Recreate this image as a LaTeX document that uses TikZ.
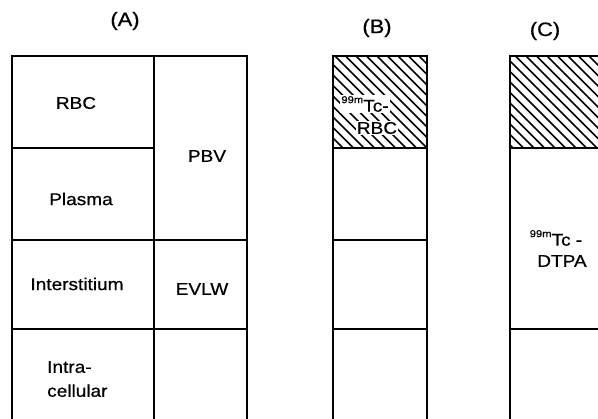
\documentclass[tikz,border=0pt]{standalone}
\usepackage{fontspec}
\setmainfont{Liberation Sans}[FakeStretch=1.12,FakeBold=0.6]
\begin{document}
\begin{tikzpicture}[x=1pt,y=-1pt,
  grid/.style={line width=1.8pt, line cap=rect},
  hatch/.style={line width=1.6pt},
  lbl/.style={font=\fontsize{17}{20}\selectfont, inner sep=0pt},
  head/.style={font=\fontsize{19.5}{22}\selectfont, inner sep=0pt},
  tag/.style={lbl, fill=white, inner sep=1pt}]
\newcommand\isotope[1]{\raisebox{0.5em}{\fontsize{10}{10}\selectfont #1}}
\useasboundingbox (0,0) rectangle (598,419);
\begin{scope}
\clip (0,0) rectangle (598,419);
% hatched red-cell compartments
\begin{scope}
  \clip (333,56) rectangle (427,148);
  \foreach \x in {230,240.5,...,440} \draw[hatch] (\x,56) -- (\x+92,148);
\end{scope}
\begin{scope}
  \clip (510,56) rectangle (604,148);
  \foreach \x in {400,410.5,...,610} \draw[hatch] (\x,56) -- (\x+92,148);
\end{scope}
% column A
\draw[grid] (12,440) -- (12,56) -- (247,56) -- (247,440);
\draw[grid] (154,56) -- (154,440);
\draw[grid] (12,148) -- (154,148);
\draw[grid] (12,240) -- (247,240);
\draw[grid] (12,329) -- (247,329);
% column B
\draw[grid] (333,440) -- (333,56) -- (427,56) -- (427,440);
\foreach \y in {148,240,329} \draw[grid] (333,\y) -- (427,\y);
% column C
\draw[grid] (510,440) -- (510,56) -- (604,56) -- (604,440);
\foreach \y in {148,329} \draw[grid] (510,\y) -- (604,\y);
\end{scope}
% headings
\node[head] (ha) at (125,21) {(A)};
\node[head] (hb) at (377,28) {(B)};
\node[head] (hc) at (545,31) {(C)};
% column A labels
\node[lbl] (rbc) at (76,103) {RBC};
\node[lbl] (pbv) at (207,156) {PBV};
\node[lbl] (plasma) at (81,199) {Plasma};
\node[lbl] (inter) at (77,284) {Interstitium};
\node[lbl] (evlw) at (202,289) {EVLW};
\node[lbl, align=left, anchor=west, font=\fontsize{17}{24}\selectfont] (intra) at (47,379) {Intra-\\cellular};
% column B labels
\node[tag] (tcrbc) at (365,104) {\isotope{99m}Tc-};
\node[tag] (rbcb) at (377,128) {RBC};
% column C labels
\node[lbl] (tcdtpa) at (556,238) {\isotope{99m}Tc -};
\node[lbl] (dtpa) at (562,261) {DTPA};
\end{tikzpicture}
\end{document}
